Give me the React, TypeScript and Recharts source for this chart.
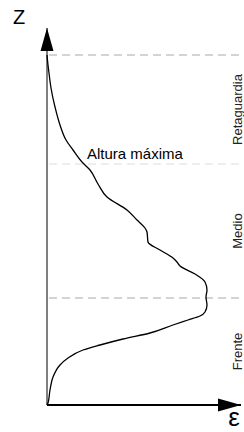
import { LineChart, Line, XAxis, YAxis, ReferenceLine, ReferenceDot, ReferenceArea } from "recharts";

const FONT = "'Liberation Sans', Arial, sans-serif";

// depth of the profile (z) and spread (epsilon)
const HEIGHT = [350, 340, 332, 317, 298, 280, 265, 255, 243, 235, 221, 208, 195, 185, 177, 173, 163, 155, 147, 143, 139, 131, 123, 115, 108, 100, 93, 89, 85, 80, 72, 66, 60, 55, 47, 40, 28, 15, 2, 0];
const SPREAD = [0, 1, 2, 4, 8, 13, 19, 26, 35, 43, 51, 60, 80, 90, 98, 100, 101, 113, 126, 130, 133, 148, 158, 160, 159, 160, 158, 153, 141, 126, 103, 76, 53, 36, 21, 13, 6, 3, 1, 0];

// zone limits on z
const ZONE_BREAKS = [350, 241, 107, 0];
const ZONE_NAMES = ["Retaguardia", "Medio", "Frente"];
const ZONE_DASH = ["#a8a8a8", "#dcdcdc", "#a8a8a8"];

const Z_MAX = 377;
const E_MAX = 194;

const data = HEIGHT.map((z, i) => ({ z, e: SPREAD[i] }));

function ZoneLabel(props: any) {
  const { viewBox, value } = props;
  const cx = 237;
  const cy = viewBox.y + viewBox.height / 2;
  return (
    <text
      x={cx}
      y={cy}
      transform={`rotate(-90 ${cx} ${cy})`}
      textAnchor="middle"
      dominantBaseline="central"
      fontFamily={FONT}
      fontSize={13}
      fill="#222"
    >
      {value}
    </text>
  );
}

export default function App() {
  return (
    <div style={{ position: "absolute", left: 0, top: 0, background: "#fff" }}>
      <LineChart
        width={244}
        height={432}
        data={data}
        layout="vertical"
        margin={{ top: 28, right: 3, bottom: 27, left: 47 }}
      >
        <XAxis type="number" dataKey="e" domain={[0, E_MAX]} hide />
        <YAxis type="number" dataKey="z" domain={[0, Z_MAX]} reversed hide />

        {ZONE_NAMES.map((name, i) => (
          <ReferenceArea
            key={name}
            y1={ZONE_BREAKS[i + 1]}
            y2={ZONE_BREAKS[i]}
            fill="none"
            stroke="none"
            label={<ZoneLabel value={name} />}
          />
        ))}
        {ZONE_BREAKS.slice(0, 3).map((z, i) => (
          <ReferenceLine
            key={z}
            segment={[{ x: 2, y: z }, { x: 200, y: z }]}
            ifOverflow="visible"
            stroke={ZONE_DASH[i]}
            strokeWidth={1}
            strokeDasharray="8 5"
          />
        ))}

        <ReferenceLine x={0} stroke="#555" strokeWidth={1.5} />
        <ReferenceLine y={0} stroke="#000" strokeWidth={2} />

        <Line
          type="monotone"
          dataKey="e"
          stroke="#000"
          strokeWidth={1.3}
          dot={false}
          isAnimationActive={false}
        />

        <ReferenceDot
          x={0}
          y={Z_MAX}
          ifOverflow="visible"
          shape={(p: any) => (
            <g>
              <polygon points={`${p.cx},${p.cy} ${p.cx - 6.5},${p.cy + 23} ${p.cx + 6.5},${p.cy + 23}`} fill="#000" />
              <text x={p.cx - 28} y={p.cy - 4} textAnchor="middle" fontFamily={FONT} fontSize={20} fill="#000">
                Z
              </text>
            </g>
          )}
        />
        <ReferenceDot
          x={E_MAX}
          y={0}
          ifOverflow="visible"
          shape={(p: any) => (
            <g>
              <polygon points={`${p.cx},${p.cy} ${p.cx - 23},${p.cy - 6.5} ${p.cx - 23},${p.cy + 6.5}`} fill="#000" />
              <text x={p.cx - 7} y={p.cy + 21} textAnchor="middle" fontFamily={FONT} fontSize={26} fill="#000">
                ε
              </text>
            </g>
          )}
        />
        <ReferenceDot
          x={40}
          y={246}
          ifOverflow="visible"
          shape={(p: any) => (
            <text x={p.cx} y={p.cy} fontFamily={FONT} fontSize={15} fill="#000">
              Altura máxima
            </text>
          )}
        />
      </LineChart>
    </div>
  );
}
